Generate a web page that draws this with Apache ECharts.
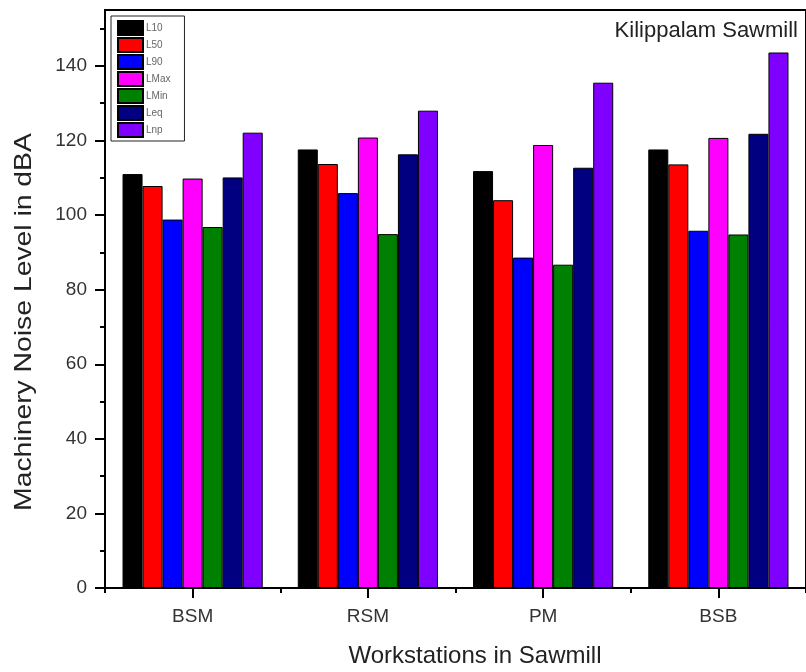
<!DOCTYPE html>
<html>
<head>
<meta charset="utf-8">
<script src="https://cdn.jsdelivr.net/npm/echarts@6/dist/echarts.min.js"></script>
<style>html,body{margin:0;padding:0;background:#fff;}#c{width:806px;height:672px;}</style>
</head>
<body>
<div id="c"></div>
<script>
const categories = ['BSM', 'RSM', 'PM', 'BSB'];
const seriesNames = ['L10', 'L50', 'L90', 'LMax', 'LMin', 'Leq', 'Lnp'];
const L10  = [111, 117.6, 111.8, 117.6];
const L50  = [107.8, 113.7, 104, 113.6];
const L90  = [98.8, 105.9, 88.6, 95.8];
const LMax = [109.8, 120.8, 118.8, 120.7];
const LMin = [96.8, 94.9, 86.7, 94.8];
const Leq  = [110.1, 116.3, 112.7, 121.8];
const Lnp  = [122.1, 128, 135.5, 143.6];
const seriesValues = [L10, L50, L90, LMax, LMin, Leq, Lnp];
const colors = ['#000000', '#ff0000', '#0000ff', '#ff00ff', '#008000', '#000080', '#8000ff'];
const yMajorTicks = [0, 20, 40, 60, 80, 100, 120, 140];
const yMinorTicks = [10, 30, 50, 70, 90, 110, 130, 150];
const yMax = 155;

const chart = echarts.init(document.getElementById('c'), null, {renderer: 'canvas'});
const font = 'Liberation Sans, Arial, sans-serif';

chart.setOption({
  animation: false,
  backgroundColor: '#ffffff',
  grid: {left: 105, top: 10, width: 708, bottom: 84, show: true, borderColor: '#000', borderWidth: 2, containLabel: false},
  legend: {
    orient: 'vertical', left: 111, top: 16,
    data: seriesNames,
    itemWidth: 25, itemHeight: 14, itemGap: 1,
    padding: [4, 14, 3, 6],
    borderColor: '#222', borderWidth: 1,
    textStyle: {fontSize: 10, color: '#666', fontFamily: font, padding: [0, 0, 0, -2]},
    icon: 'rect'
  },
  xAxis: [{
    type: 'category', data: categories, position: 'bottom',
    axisLine: {show: true, lineStyle: {color: '#000', width: 2}},
    axisTick: {show: true, alignWithLabel: true, length: 10, inside: false, lineStyle: {color: '#000', width: 2}},
    axisLabel: {fontSize: 19, color: '#333', fontFamily: font, margin: 19}
  }, {
    type: 'category', data: categories, position: 'bottom',
    axisLine: {show: false},
    axisTick: {show: true, length: 5, inside: false, lineStyle: {color: '#000', width: 2}},
    axisLabel: {show: false}
  }],
  yAxis: [{
    type: 'value', min: 0, max: yMax, interval: 20, position: 'left',
    axisLine: {show: true, lineStyle: {color: '#000', width: 2}},
    axisTick: {show: true, length: 10, customValues: yMajorTicks, lineStyle: {color: '#000', width: 2}},
    axisLabel: {fontSize: 19, color: '#333', fontFamily: font, margin: 18, customValues: yMajorTicks},
    splitLine: {show: false}
  }, {
    type: 'value', min: 0, max: yMax, interval: 10, position: 'left',
    axisLine: {show: false},
    axisTick: {show: true, length: 5, customValues: yMinorTicks, lineStyle: {color: '#000', width: 2}},
    axisLabel: {show: false},
    splitLine: {show: false}
  }],
  series: seriesNames.map((name, i) => ({
    name: name, type: 'bar', xAxisIndex: 0, yAxisIndex: 0,
    data: seriesValues[i],
    barGap: '0%', barCategoryGap: '20%',
    itemStyle: {color: colors[i], borderColor: '#000', borderWidth: 1}
  })),
  graphic: [
    {type: 'text', style: {text: 'Kilippalam Sawmill', x: 798, y: 31, align: 'right', verticalAlign: 'middle', font: '22px ' + font, fill: '#222'}},
    {type: 'text', style: {text: 'Workstations in Sawmill', x: 475, y: 656, align: 'center', verticalAlign: 'middle', font: '24px ' + font, fill: '#222'}},
    {type: 'text', x: 24, y: 322, rotation: Math.PI / 2, scaleX: 1.18, style: {text: 'Machinery Noise Level in dBA', x: 0, y: 0, align: 'center', verticalAlign: 'middle', font: '24px ' + font, fill: '#222'}}
  ]
});
</script>
</body>
</html>
